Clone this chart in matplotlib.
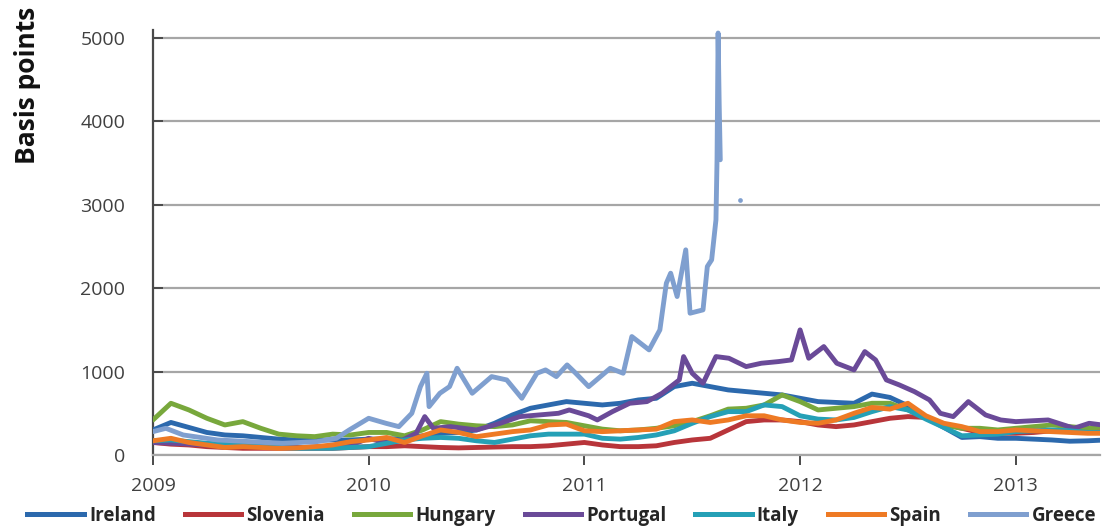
import matplotlib
matplotlib.use("Agg")
import matplotlib.pyplot as plt
import numpy as np
from matplotlib.lines import Line2D

# monthly readings, Jan 2009 .. Jun 2013 (basis points)
months = 2009 + np.arange(54) / 12

ireland = [300, 390, 330, 270, 240, 230, 210, 190, 180, 180, 180, 180,
           190, 190, 200, 230, 260, 270, 300, 380, 480, 560, 600, 640,
           620, 600, 620, 660, 680, 820, 860, 820, 780, 760, 740, 720,
           680, 640, 630, 620, 730, 690, 590, 450, 330, 210, 220, 200,
           200, 190, 180, 165, 170, 180]
slovenia = [150, 130, 120, 100, 90, 80, 80, 80, 80, 80, 80, 90,
            100, 100, 110, 100, 90, 85, 90, 95, 100, 100, 110, 130,
            150, 120, 100, 100, 110, 150, 180, 200, 300, 400, 420, 420,
            400, 360, 340, 360, 400, 440, 460, 450, 370, 320, 270, 260,
            260, 270, 290, 290, 280, 280]
hungary = [420, 620, 540, 440, 360, 400, 320, 250, 230, 220, 250, 240,
           270, 270, 230, 300, 400, 370, 350, 340, 360, 410, 400, 390,
           350, 310, 290, 300, 320, 350, 400, 470, 550, 560, 600, 720,
           640, 540, 560, 580, 620, 620, 540, 460, 360, 320, 320, 300,
           320, 340, 360, 340, 320, 340]
italy = [170, 180, 160, 140, 130, 120, 100, 90, 80, 80, 80, 90,
         100, 140, 180, 200, 210, 200, 170, 150, 190, 230, 250, 250,
         250, 200, 190, 210, 240, 290, 380, 460, 520, 520, 600, 580,
         470, 430, 420, 450, 520, 580, 540, 430, 330, 230, 240, 250,
         280, 290, 300, 290, 270, 270]
spain = [170, 200, 150, 120, 90, 100, 90, 80, 85, 100, 120, 160,
         180, 210, 150, 230, 300, 270, 220, 250, 280, 300, 360, 370,
         290, 280, 290, 300, 310, 400, 420, 390, 420, 470, 470, 420,
         390, 380, 420, 500, 570, 550, 620, 470, 380, 340, 280, 280,
         300, 290, 280, 270, 260, 260]

# Portugal and Greece need finer dates around their spikes
portugal_t = [2009.00, 2009.10, 2009.25, 2009.40, 2009.55, 2009.70, 2009.85, 2009.95,
              2010.00, 2010.07, 2010.15, 2010.22, 2010.26, 2010.30, 2010.38, 2010.50,
              2010.61, 2010.70, 2010.79, 2010.88, 2010.93, 2011.02, 2011.06, 2011.13,
              2011.21, 2011.29, 2011.36, 2011.44, 2011.46, 2011.50, 2011.55, 2011.61,
              2011.67, 2011.75, 2011.82, 2011.90, 2011.96, 2012.00, 2012.04, 2012.11,
              2012.17, 2012.25, 2012.30, 2012.35, 2012.40, 2012.46, 2012.53, 2012.60,
              2012.65, 2012.71, 2012.78, 2012.86, 2012.93, 2013.00, 2013.15, 2013.27,
              2013.34, 2013.40]
portugal = [150, 140, 120, 110, 95, 90, 110, 150,
            200, 150, 170, 260, 460, 320, 340, 300,
            380, 460, 480, 500, 540, 470, 420, 520,
            620, 640, 740, 900, 1180, 980, 860, 1180,
            1160, 1060, 1100, 1120, 1140, 1500, 1160, 1300,
            1100, 1020, 1240, 1140, 900, 840, 760, 660,
            500, 460, 640, 480, 420, 400, 420, 320,
            380, 360]

greece_t = [2009.00, 2009.06, 2009.14, 2009.30, 2009.45, 2009.60, 2009.76, 2009.85,
            2009.91, 2010.00, 2010.08, 2010.14, 2010.20, 2010.24, 2010.27, 2010.28,
            2010.33, 2010.375, 2010.41, 2010.48, 2010.57, 2010.64, 2010.71, 2010.78,
            2010.82, 2010.87, 2010.92, 2010.96, 2011.02, 2011.12, 2011.18, 2011.22,
            2011.30, 2011.35, 2011.38, 2011.40, 2011.43, 2011.47, 2011.49, 2011.55,
            2011.57, 2011.59, 2011.61, 2011.615, 2011.62, 2011.625, 2011.63, 2011.67,
            2011.72, 2011.76]
greece = [280, 320, 240, 180, 160, 140, 160, 200,
          300, 440, 380, 340, 500, 820, 980, 580,
          740, 820, 1040, 740, 940, 900, 680, 980,
          1020, 940, 1080, 980, 820, 1040, 980, 1420,
          1260, 1500, 2060, 2180, 1900, 2460, 1700, 1740,
          2260, 2340, 2820, 3540, 5060, 4200, 3540, np.nan,
          3060, np.nan]

year_ticks = [2009, 2010, 2011, 2012, 2013]
y_ticks = [0, 1000, 2000, 3000, 4000, 5000]

names = ["Ireland", "Slovenia", "Hungary", "Portugal", "Italy", "Spain", "Greece"]
colors = ["#2c69ad", "#b8353a", "#78a83c", "#6a4a98", "#25a0b6", "#ee7a24", "#7f9fcf"]
series = [(months, ireland), (months, slovenia), (months, hungary),
          (portugal_t, portugal), (months, italy), (months, spain),
          (greece_t, greece)]

plt.rcParams.update({"font.family": ["Open Sans", "DejaVu Sans"]})
TXT = "#404040"

fig = plt.figure(figsize=(11.06, 5.28), dpi=100)
ax = fig.add_axes([0.1383, 0.1383, 0.8562, 0.8055])

for (t, v), c in zip(series, colors):
    t = np.asarray(t, float); v = np.asarray(v, float)
    ax.plot(t, v, color=c, lw=3.5, solid_joinstyle="round", solid_capstyle="round", zorder=3)
    # single readings between gaps
    ok = ~np.isnan(v)
    prev = np.r_[False, ok[:-1]]; nxt = np.r_[ok[1:], False]
    lone = ok & ~prev & ~nxt
    ax.plot(t[lone], v[lone], "o", color=c, ms=3.4, mec="none", zorder=3)

ax.set_xlim(2009, 2013.39)
ax.set_ylim(0, 5100)
ax.set_xticks(year_ticks)
ax.set_xticklabels([str(y) for y in year_ticks])
ax.set_yticks(y_ticks)
ax.yaxis.grid(True, color="#a6a6a6", lw=1.6, zorder=1)
ax.set_axisbelow(True)
for s in ["top", "right"]:
    ax.spines[s].set_visible(False)
ax.spines["left"].set_color("#4a4a4a"); ax.spines["left"].set_linewidth(1.6)
ax.spines["bottom"].set_color("#a6a6a6"); ax.spines["bottom"].set_linewidth(1.6)
ax.tick_params(axis="y", direction="in", length=7, width=1.4, color="#4a4a4a",
               pad=20, labelsize=14, labelcolor=TXT)
ax.tick_params(axis="x", direction="out", length=7, width=1.4, color="#4a4a4a",
               pad=9, labelsize=14, labelcolor=TXT)

fig.text(0.0253, 0.839, "Basis points", rotation=90, ha="center", va="center",
         fontsize=19, fontweight="bold", fontstretch="condensed", color="#111111")

handles = [Line2D([], [], color=c, lw=3.6) for c in colors]
leg = fig.legend(handles, names, loc="center", bbox_to_anchor=(0.508, 0.0227), ncol=7,
                 frameon=False, handlelength=3.0, handletextpad=0.28, columnspacing=1.55,
                 borderpad=0, prop={"size": 13.5, "weight": "bold"})
for tx in leg.get_texts():
    tx.set_color("#262626")

fig.savefig("out.png", dpi=100, facecolor="white")
